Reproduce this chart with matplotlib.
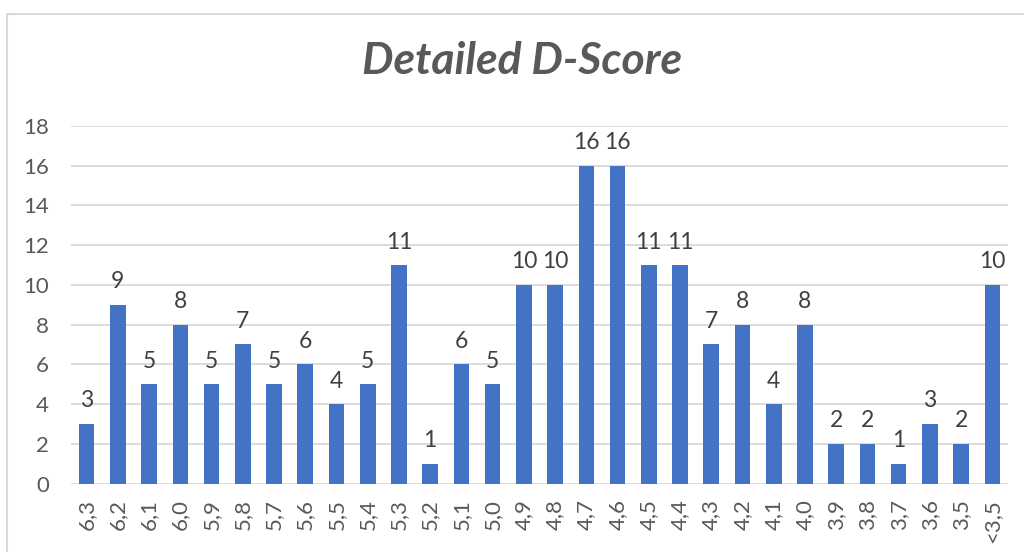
import matplotlib
matplotlib.use("Agg")
import matplotlib.pyplot as plt
from matplotlib.patches import Rectangle

categories = ["6,3", "6,2", "6,1", "6,0", "5,9", "5,8", "5,7", "5,6", "5,5", "5,4",
              "5,3", "5,2", "5,1", "5,0", "4,9", "4,8", "4,7", "4,6", "4,5", "4,4",
              "4,3", "4,2", "4,1", "4,0", "3,9", "3,8", "3,7", "3,6", "3,5", "<3,5"]
values = [3, 9, 5, 8, 5, 7, 5, 6, 4, 5, 11, 1, 6, 5, 10, 10, 16, 16, 11, 11,
          7, 8, 4, 8, 2, 2, 1, 3, 2, 10]
yticks = [0, 2, 4, 6, 8, 10, 12, 14, 16, 18]
title = "Detailed D-Score"

plt.rcParams['font.family'] = ['Lato', 'DejaVu Sans']
W, H = 1024, 552
fig = plt.figure(figsize=(W / 100, H / 100), dpi=100)
fig.patch.set_facecolor("white")

# chart border
fig.patches.append(Rectangle((7 / W, -0.1), 1.2, 1 - 14 / H + 0.1, transform=fig.transFigure,
                             fill=False, edgecolor="#d9d9d9", linewidth=1.5))

left, right = 71 / W, 1008 / W
bottom, top = 1 - 483.5 / H, 1 - 126 / H
ax = fig.add_axes([left, bottom, right - left, top - bottom])

x = list(range(len(categories)))
ax.bar(x, values, width=0.5, color="#4472C4", zorder=3)
ax.set_xlim(-0.5, len(categories) - 0.5)
ax.set_ylim(0, 18)
ax.set_yticks(yticks)
ax.set_yticklabels([str(t) for t in yticks])
ax.set_xticks(x)
ax.set_xticklabels(categories, rotation=90)
ax.grid(axis="y", color="#d9d9d9", linewidth=1.3, zorder=0)
for s in ax.spines.values():
    s.set_visible(False)
ax.tick_params(axis="both", length=0, labelsize=16, labelcolor="#595959")
ax.tick_params(axis="y", pad=16)
ax.tick_params(axis="x", pad=11)

for xi, v in zip(x, values):
    ax.annotate(str(v), (xi, v), xytext=(0, 9), textcoords="offset points",
                ha="center", va="bottom", fontsize=16.5, color="#404040")

fig.text(522 / W, 1 - 61 / H, title, ha="center", va="center", fontsize=32,
         fontweight="bold", fontstyle="italic", color="#595959")

fig.savefig("out.png", dpi=100)
